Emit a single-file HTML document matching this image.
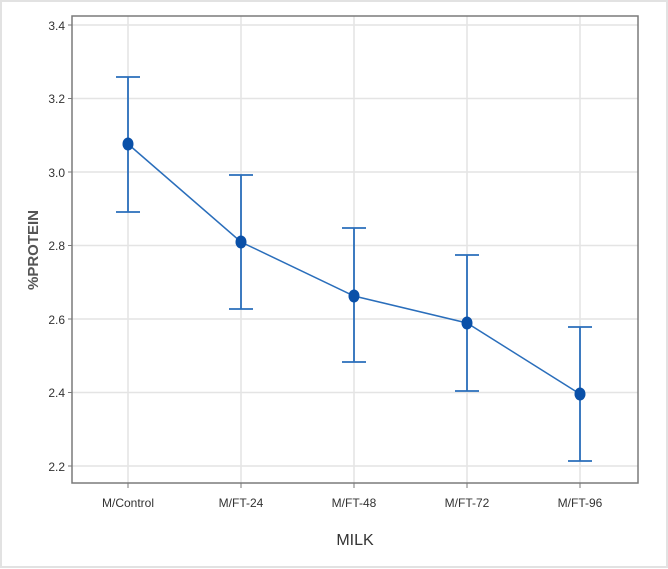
<!DOCTYPE html>
<html><head><style>
html,body{margin:0;padding:0;background:#fff}
svg{display:block;font-family:"Liberation Sans",sans-serif}
</style></head><body>
<svg width="668" height="569" viewBox="0 0 668 569">
<rect x="1" y="1" width="666" height="566" fill="#fff" stroke="#e2e2e2" stroke-width="2"/>
<g stroke="#e4e4e4" stroke-width="1.5">
<line x1="72" x2="638" y1="25" y2="25"/><line x1="72" x2="638" y1="98.5" y2="98.5"/>
<line x1="72" x2="638" y1="172" y2="172"/><line x1="72" x2="638" y1="245.5" y2="245.5"/>
<line x1="72" x2="638" y1="319" y2="319"/><line x1="72" x2="638" y1="392.5" y2="392.5"/>
<line x1="72" x2="638" y1="466" y2="466"/>
<line x1="128" x2="128" y1="16" y2="483"/><line x1="241" x2="241" y1="16" y2="483"/>
<line x1="354" x2="354" y1="16" y2="483"/><line x1="467" x2="467" y1="16" y2="483"/>
<line x1="580" x2="580" y1="16" y2="483"/>
</g>
<rect x="72" y="16" width="566" height="467" fill="none" stroke="#7a7a7a" stroke-width="1.5"/>
<g stroke="#7a7a7a" stroke-width="1">
<line x1="68" x2="72" y1="25" y2="25"/><line x1="68" x2="72" y1="98.5" y2="98.5"/><line x1="68" x2="72" y1="172" y2="172"/><line x1="68" x2="72" y1="245.5" y2="245.5"/><line x1="68" x2="72" y1="319" y2="319"/><line x1="68" x2="72" y1="392.5" y2="392.5"/><line x1="68" x2="72" y1="466" y2="466"/>
<line x1="128" x2="128" y1="483" y2="488"/><line x1="241" x2="241" y1="483" y2="488"/><line x1="354" x2="354" y1="483" y2="488"/><line x1="467" x2="467" y1="483" y2="488"/><line x1="580" x2="580" y1="483" y2="488"/>
</g>
<g font-size="12" fill="#333" text-anchor="end">
<text x="65" y="30">3.4</text><text x="65" y="103">3.2</text><text x="65" y="177">3.0</text><text x="65" y="250">2.8</text><text x="65" y="324">2.6</text><text x="65" y="397">2.4</text><text x="65" y="471">2.2</text>
</g>
<g font-size="12" fill="#333" text-anchor="middle">
<text x="128" y="507">M/Control</text><text x="241" y="507">M/FT-24</text><text x="354" y="507">M/FT-48</text><text x="467" y="507">M/FT-72</text><text x="580" y="507">M/FT-96</text>
</g>
<text x="355" y="545" font-size="16" fill="#333" text-anchor="middle">MILK</text>
<text transform="translate(38,250) rotate(-90)" font-size="15" font-weight="bold" fill="#555" text-anchor="middle">%PROTEIN</text>
<g stroke="#2a6ebb" stroke-width="1.8" fill="none">
<path d="M128 77V212M116 77H140M116 212H140"/>
<path d="M241 175V309M229 175H253M229 309H253"/>
<path d="M354 228V362M342 228H366M342 362H366"/>
<path d="M467 255V391M455 255H479M455 391H479"/>
<path d="M580 327V461M568 327H592M568 461H592"/>
<polyline stroke-width="1.5" points="128,144 241,242 354,296 467,323 580,394"/>
</g>
<g fill="#0a50a8">
<ellipse cx="128" cy="144" rx="5.5" ry="6.5"/><ellipse cx="241" cy="242" rx="5.5" ry="6.5"/><ellipse cx="354" cy="296" rx="5.5" ry="6.5"/><ellipse cx="467" cy="323" rx="5.5" ry="6.5"/><ellipse cx="580" cy="394" rx="5.5" ry="6.5"/>
</g>
</svg>
</body></html>
